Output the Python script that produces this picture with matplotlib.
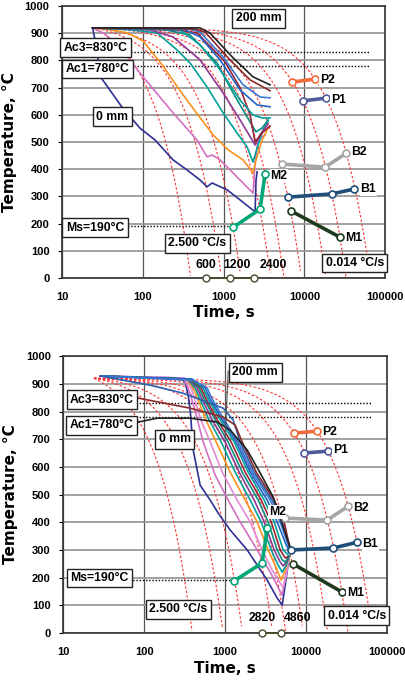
import matplotlib
matplotlib.use("Agg")
import matplotlib.pyplot as plt
from matplotlib import font_manager

installed = {f.name for f in font_manager.fontManager.ttflist}
if "Liberation Sans Narrow" in installed:
    NARROW, BOX_FS = ["Liberation Sans Narrow", "DejaVu Sans"], 10
elif "DejaVu Sans Condensed" in installed:
    NARROW, BOX_FS = ["DejaVu Sans Condensed", "DejaVu Sans"], 8.8
else:
    NARROW, BOX_FS = ["Liberation Sans", "DejaVu Sans"], 8.8
ARIAL = ["Liberation Sans", "DejaVu Sans"]

# ---------------- data: constant cooling-rate lines (degC/s) ----------------
rates = [2.5, 1.0, 0.57, 0.24, 0.165, 0.1, 0.05, 0.028, 0.014]
rate_T0 = 920
rate_t0 = 24

xticks = [10, 100, 1000, 10000, 100000]
xtick_labels = ["10", "100", "1000", "10000", "100000"]
yticks = [0, 100, 200, 300, 400, 500, 600, 700, 800, 900, 1000]

Ac3, Ac1, Ms = 830, 780, 190

# ---------------- top panel cooling curves (time s, temperature degC) ----------------
top_navy_t = [24, 27, 30, 55, 92, 142, 237, 353, 512, 625, 721, 1105, 1600, 2455, 2523, 2600]
top_navy_T = [919, 838, 739, 629, 551, 507, 434, 397, 360, 335, 349, 324, 287, 243, 360, 390]
top_pink_t = [24, 34, 66, 101, 237, 470, 625, 721, 905, 1312, 2317, 2455, 2673, 3265]
top_pink_T = [919, 897, 809, 739, 607, 507, 445, 452, 434, 386, 312, 423, 507, 526]
top_orange_t = [24, 39, 64, 101, 178, 315, 483, 742, 1137, 1742, 2317, 2523, 2999, 3556]
top_orange_T = [919, 912, 901, 871, 779, 673, 599, 526, 471, 434, 386, 434, 507, 551]
top_teal1_t = [24, 70, 150, 266, 385, 625, 986, 1469, 1954, 2317, 2673, 3083, 3556]
top_teal1_T = [919, 912, 901, 838, 790, 702, 607, 533, 482, 426, 489, 544, 577]
top_purple_t = [24, 123, 237, 512, 986, 1600, 2455, 2830, 3556]
top_purple_T = [919, 912, 886, 801, 680, 581, 489, 526, 566]
top_teal2_t = [24, 189, 385, 832, 1312, 1954, 2523, 2999, 3556]
top_teal2_T = [919, 912, 893, 790, 680, 592, 537, 551, 581]
top_darkred_t = [24, 251, 470, 1045, 1600, 2130, 2455, 2999, 3765]
top_darkred_T = [919, 912, 901, 794, 699, 599, 500, 533, 559]
top_teal3_t = [24, 289, 512, 905, 1600, 2317, 2999, 3765]
top_teal3_T = [919, 912, 857, 765, 654, 599, 588, 588]
top_blue1_t = [24, 333, 512, 905, 1600, 2600, 3765]
top_blue1_T = [919, 912, 886, 801, 691, 636, 629]
top_blue2_t = [24, 385, 512, 986, 1742, 2830, 3765]
top_blue2_T = [919, 915, 904, 812, 710, 665, 662]
top_brown_t = [24, 444, 590, 1204, 2130, 3765]
top_brown_T = [919, 915, 904, 801, 728, 688]
top_black_t = [24, 512, 680, 1312, 2317, 3765]
top_black_T = [919, 919, 900, 809, 739, 710]

# ---------------- bottom panel cooling curves ----------------
bot_navy_t = [29, 278, 321, 349, 370, 403, 491, 653, 820, 1153, 1870, 3301, 4388, 5059, 5510, 6175]
bot_navy_T = [928, 921, 906, 859, 805, 661, 534, 480, 433, 372, 300, 191, 126, 101, 173, 278]
bot_pink1_t = [29, 303, 349, 380, 439, 535, 753, 1089, 1532, 2484, 3595, 5059, 5510, 6175]
bot_pink1_T = [928, 921, 885, 852, 787, 690, 570, 480, 401, 300, 220, 137, 199, 278]
bot_pink2_t = [29, 321, 380, 414, 491, 653, 919, 1407, 2037, 2864, 3806, 5205, 5669, 6175]
bot_pink2_T = [928, 921, 885, 852, 776, 690, 581, 480, 401, 300, 227, 163, 209, 278]
bot_orange_t = [29, 330, 403, 451, 566, 775, 1153, 1766, 2484, 3396, 4265, 4917, 5510, 6175]
bot_orange_T = [928, 917, 885, 852, 776, 690, 581, 480, 401, 300, 235, 191, 227, 278]
bot_teal1_t = [29, 340, 426, 478, 617, 893, 1329, 2037, 2784, 3699, 4515, 5059, 5669, 6175]
bot_teal1_T = [928, 917, 885, 852, 776, 690, 581, 480, 401, 300, 245, 220, 245, 278]
bot_purple_t = [29, 349, 451, 506, 672, 1000, 1489, 2282, 3031, 4029, 4779, 5205, 5669, 6175]
bot_purple_T = [928, 917, 885, 852, 776, 690, 581, 480, 401, 300, 256, 242, 256, 278]
bot_teal2_t = [29, 359, 478, 535, 732, 1089, 1622, 2556, 3396, 4388, 5059, 5510, 6175]
bot_teal2_T = [928, 917, 885, 852, 776, 690, 581, 480, 401, 300, 264, 256, 278]
bot_darkred_t = [29, 370, 506, 566, 775, 1186, 1766, 2784, 3699, 4779, 5510, 6175]
bot_darkred_T = [928, 917, 885, 852, 776, 690, 581, 480, 401, 300, 271, 278]
bot_teal3_t = [29, 380, 535, 599, 844, 1292, 1924, 3031, 4029, 5205, 6175]
bot_teal3_T = [928, 917, 885, 852, 776, 690, 581, 480, 401, 300, 278]
bot_blue1_t = [29, 391, 566, 634, 893, 1367, 2037, 3301, 4388, 5669, 6353]
bot_blue1_T = [928, 917, 885, 852, 776, 690, 581, 480, 401, 318, 292]
bot_blue2_t = [29, 403, 599, 672, 945, 1447, 2156, 3595, 4779, 6001, 6353]
bot_blue2_T = [928, 913, 885, 852, 776, 690, 581, 480, 401, 318, 292]
bot_blue3_t = [29, 119, 303, 945, 1256, 1532, 2282, 3806, 5059, 6175, 6353]
bot_blue3_T = [928, 895, 866, 812, 769, 690, 581, 480, 401, 318, 292]
bot_brown_t = [38, 73, 370, 945, 1329, 1622, 2415, 4029, 5356, 6353]
bot_brown_T = [859, 852, 812, 780, 751, 690, 581, 480, 401, 300]
bot_black_t = [38, 73, 145, 370, 797, 1153, 1870, 2706, 3916, 5510, 6536]
bot_black_T = [751, 758, 776, 776, 762, 733, 661, 578, 491, 361, 300]

# ---------------- phase regions (start/end of transformation) ----------------
top_P2_t, top_P2_T = [7050, 13600], [720, 731]
top_P1_t, top_P1_T = [9660, 18600], [651, 661]
top_B2_t, top_B2_T = [5270, 18000, 32900], [419, 407, 458]
top_B1_t, top_B1_T = [6300, 21900, 41600], [297, 309, 327]
top_M1_t, top_M1_T = [6860, 27600], [246, 150]
top_M2_t, top_M2_T = [1312, 2830, 3270], [186, 253, 383]

bot_P2_t, bot_P2_T = [7110, 13700], [722, 729]
bot_P1_t, bot_P1_T = [9440, 18600], [650, 657]
bot_B2_t, bot_B2_T = [5500, 18200, 33000], [415, 408, 458]
bot_B1_t, bot_B1_T = [6530, 21600, 42900], [300, 307, 328]
bot_M1_t, bot_M1_T = [6940, 27700], [249, 148]
bot_M2_t, bot_M2_T = [1290, 2860, 3310], [188, 253, 379]

top_axis_marks = [600, 1200, 2400]
bot_axis_marks = [2820, 4860]

C_NAVY, C_PINK, C_PINK2, C_ORANGE = "#2e3192", "#d36fc4", "#e38ad6", "#f7931e"
C_TEAL, C_PURPLE, C_DARKRED, C_BLUE = "#00a19a", "#8e3a96", "#9b2335", "#1f63c6"
C_BLUE3, C_BROWN, C_BLACK = "#3a78d0", "#8b2a2a", "#222222"

top_curves = [
    (top_navy_t, top_navy_T, C_NAVY), (top_pink_t, top_pink_T, C_PINK),
    (top_orange_t, top_orange_T, C_ORANGE), (top_teal1_t, top_teal1_T, C_TEAL),
    (top_purple_t, top_purple_T, C_PURPLE), (top_teal2_t, top_teal2_T, "#0a8f80"),
    (top_darkred_t, top_darkred_T, C_DARKRED), (top_teal3_t, top_teal3_T, C_TEAL),
    (top_blue1_t, top_blue1_T, C_BLUE), (top_blue2_t, top_blue2_T, C_BLUE3),
    (top_brown_t, top_brown_T, C_BROWN), (top_black_t, top_black_T, C_BLACK),
]
bot_curves = [
    (bot_navy_t, bot_navy_T, C_NAVY), (bot_pink1_t, bot_pink1_T, C_PINK),
    (bot_pink2_t, bot_pink2_T, C_PINK2), (bot_orange_t, bot_orange_T, C_ORANGE),
    (bot_teal1_t, bot_teal1_T, C_TEAL), (bot_purple_t, bot_purple_T, C_PURPLE),
    (bot_teal2_t, bot_teal2_T, "#0a8f80"), (bot_darkred_t, bot_darkred_T, C_DARKRED),
    (bot_teal3_t, bot_teal3_T, C_TEAL), (bot_blue1_t, bot_blue1_T, C_BLUE),
    (bot_blue2_t, bot_blue2_T, C_BLUE3), (bot_blue3_t, bot_blue3_T, "#2d5fb0"),
    (bot_brown_t, bot_brown_T, C_BROWN), (bot_black_t, bot_black_T, C_BLACK),
]

PHASE_STYLE = {"P2": "#f26b3a", "P1": "#4f5b9c", "B2": "#a6a6a6",
               "B1": "#1f4e79", "M1": "#1e3a1e", "M2": "#00a676"}


def box(ax, x, y, s):
    ax.text(x, y, s, transform=ax.transAxes, ha="center", va="center",
            fontsize=BOX_FS, fontweight="bold", family=NARROW, zorder=20,
            bbox=dict(boxstyle="square,pad=0.28", fc="white", ec="#222222", lw=1.0))


def label(ax, t, T, s):
    ax.text(t, T, s, ha="center", va="center", fontsize=BOX_FS, fontweight="bold",
            family=NARROW, zorder=19,
            bbox=dict(boxstyle="square,pad=0.05", fc="white", ec="none"))


def draw_panel(ax, curves, phases, marks):
    ax.set_xscale("log")
    ax.set_xlim(10, 100000)
    ax.set_ylim(0, 1000)

    # constant cooling-rate lines
    for r in rates:
        tt = [rate_t0 * (1.04 ** k) for k in range(400)]
        tt = [t for t in tt if rate_T0 - r * (t - rate_t0) >= -5]
        TT = [rate_T0 - r * (t - rate_t0) for t in tt]
        ax.plot(tt, TT, color="#ff3333", lw=0.8, ls=(0, (2.2, 1.8)), zorder=3)

    # critical temperatures
    ax.plot([20, 63000], [Ac3, Ac3], color="black", lw=1.0, ls=(0, (1, 1.3)), zorder=2)
    ax.plot([20, 63000], [Ac1, Ac1], color="black", lw=1.0, ls=(0, (1, 1.3)), zorder=2)
    ax.plot([20, phases["M2"][0][0]], [Ms, Ms], color="black", lw=1.0, ls=(0, (1, 1.3)), zorder=2)

    for t, T, c in curves:
        ax.plot(t, T, color=c, lw=1.2, zorder=5)

    for name, (t, T) in phases.items():
        ax.plot(t, T, color=PHASE_STYLE[name], lw=2.6, marker="o", ms=5,
                mfc="white", mec=PHASE_STYLE[name], mew=1.2, zorder=8)

    ax.plot(marks, [0] * len(marks), color="#4a4a2a", lw=1.2, marker="o", ms=5,
            mfc="white", mec="#4a4a2a", mew=1.0, clip_on=False, zorder=9)

    ax.set_xticks(xticks)
    ax.set_xticklabels(xtick_labels)
    ax.xaxis.set_minor_locator(matplotlib.ticker.NullLocator())
    ax.set_yticks(yticks)
    for lab in ax.get_xticklabels() + ax.get_yticklabels():
        lab.set_fontweight("bold")
        lab.set_family(ARIAL)
        lab.set_fontsize(8)
    ax.tick_params(axis="x", length=0, pad=10)
    ax.tick_params(axis="y", length=3, pad=6)
    ax.yaxis.grid(True, color="#9a9a9a", lw=1.3, zorder=0)
    ax.xaxis.grid(True, color="#555555", lw=0.9, zorder=0)
    ax.set_axisbelow(True)
    for sp in ax.spines.values():
        sp.set_color("#333333")
        sp.set_linewidth(1.2)
    ax.set_xlabel("Time, s", fontsize=11, fontweight="bold")
    ax.set_ylabel("Temperature, °C", fontsize=11, fontweight="bold")


fig = plt.figure(figsize=(4.05, 6.82), dpi=100)
ax1 = fig.add_axes([0.153, 0.5924, 0.798, 0.399])
ax2 = fig.add_axes([0.156, 0.0718, 0.800, 0.406])

top_phases = {"P2": (top_P2_t, top_P2_T), "P1": (top_P1_t, top_P1_T),
              "B2": (top_B2_t, top_B2_T), "B1": (top_B1_t, top_B1_T),
              "M1": (top_M1_t, top_M1_T), "M2": (top_M2_t, top_M2_T)}
bot_phases = {"P2": (bot_P2_t, bot_P2_T), "P1": (bot_P1_t, bot_P1_T),
              "B2": (bot_B2_t, bot_B2_T), "B1": (bot_B1_t, bot_B1_T),
              "M1": (bot_M1_t, bot_M1_T), "M2": (bot_M2_t, bot_M2_T)}

draw_panel(ax1, top_curves, top_phases, top_axis_marks)
draw_panel(ax2, bot_curves, bot_phases, bot_axis_marks)

# top panel annotations
box(ax1, 0.105, 0.846, "Ac3=830°C")
box(ax1, 0.110, 0.768, "Ac1=780°C")
box(ax1, 0.156, 0.592, "0 mm")
box(ax1, 0.608, 0.954, "200 mm")
box(ax1, 0.102, 0.184, "Ms=190°C")
box(ax1, 0.418, 0.127, "2.500 °C/s")
box(ax1, 0.906, 0.055, "0.014 °C/s")
label(ax1, 19100, 726, "P2")
label(ax1, 26200, 654, "P1")
label(ax1, 47600, 463, "B2")
label(ax1, 61500, 327, "B1")
label(ax1, 41300, 147, "M1")
label(ax1, 4860, 375, "M2")
for t, s in zip([607, 1469, 4110], ["600", "1200", "2400"]):
    ax1.text(t, 48, s, ha="center", va="center", fontsize=BOX_FS, fontweight="bold", family=NARROW)

# bottom panel annotations
box(ax2, 0.120, 0.843, "Ac3=830°C")
box(ax2, 0.119, 0.751, "Ac1=780°C")
box(ax2, 0.344, 0.700, "0 mm")
box(ax2, 0.593, 0.942, "200 mm")
ax2.plot([1180, 1089, 1000], [946, 946, 704], color="#555555", lw=0.8, zorder=18)
box(ax2, 0.113, 0.199, "Ms=190°C")
box(ax2, 0.355, 0.085, "2.500 °C/s")
box(ax2, 0.906, 0.063, "0.014 °C/s")
label(ax2, 19500, 727, "P2")
label(ax2, 26300, 661, "P1")
label(ax2, 47800, 453, "B2")
label(ax2, 61700, 321, "B1")
label(ax2, 40300, 144, "M1")
label(ax2, 4390, 437, "M2")
for t, s in zip([2862, 7740], ["2820", "4860"]):
    ax2.text(t, 54, s, ha="center", va="center", fontsize=BOX_FS, fontweight="bold", family=NARROW)

for ax in (ax1, ax2):
    ax.yaxis.set_label_coords(-0.14, 0.5)
    ax.xaxis.set_label_coords(0.5, -0.10)

fig.savefig("out.png", dpi=100)
